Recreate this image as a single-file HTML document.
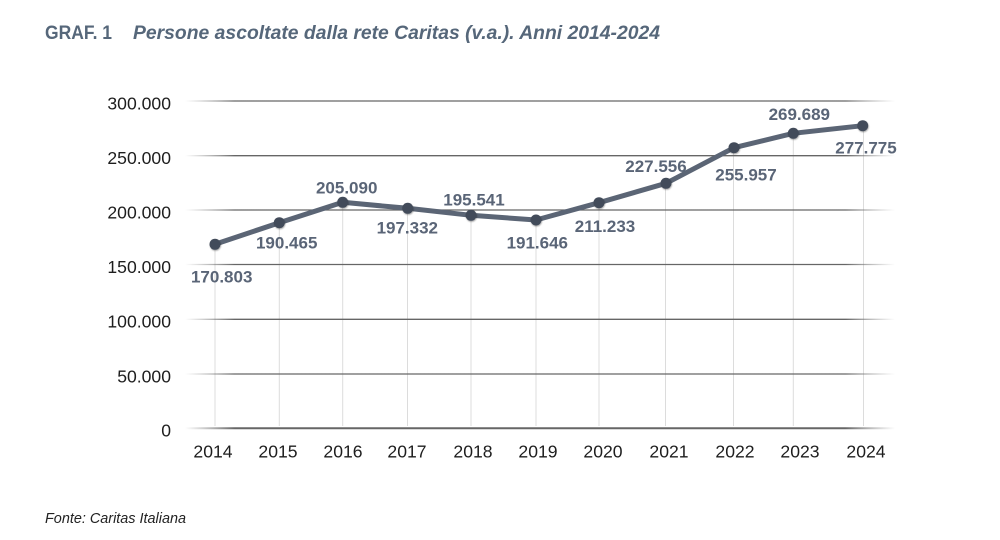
<!DOCTYPE html>
<html>
<head>
<meta charset="utf-8">
<style>
  html,body{margin:0;padding:0;background:#fff;}
  body{width:1000px;height:540px;overflow:hidden;}
  svg{display:block;font-family:"Liberation Sans",sans-serif;}
</style>
</head>
<body>
<svg width="1000" height="540" viewBox="0 0 1000 540" xmlns="http://www.w3.org/2000/svg">
  <defs>
    <linearGradient id="hg" gradientUnits="userSpaceOnUse" x1="185" y1="0" x2="895" y2="0">
      <stop offset="0" stop-color="#888" stop-opacity="0"/>
      <stop offset="0.07" stop-color="#666" stop-opacity="1"/>
      <stop offset="0.93" stop-color="#666" stop-opacity="1"/>
      <stop offset="1" stop-color="#888" stop-opacity="0"/>
    </linearGradient>
    <filter id="sh" x="-50%" y="-50%" width="200%" height="200%">
      <feDropShadow dx="0.5" dy="1" stdDeviation="0.8" flood-color="#000" flood-opacity="0.35"/>
    </filter>
  </defs>

  <!-- Title -->
  <text x="45" y="39" font-size="19.5" font-weight="bold" fill="#56677a" textLength="67" lengthAdjust="spacingAndGlyphs">GRAF. 1</text>
  <text x="133" y="39" font-size="19.5" font-weight="bold" font-style="italic" fill="#56677a" textLength="527" lengthAdjust="spacingAndGlyphs">Persone ascoltate dalla rete Caritas (v.a.). Anni 2014-2024</text>

  <!-- vertical grid lines -->
  <g stroke="#dcdcdc" stroke-width="1">
    <line x1="215" y1="244" x2="215" y2="426"/>
    <line x1="279.3" y1="223" x2="279.3" y2="426"/>
    <line x1="342.7" y1="202" x2="342.7" y2="426"/>
    <line x1="407.5" y1="208" x2="407.5" y2="426"/>
    <line x1="471" y1="215" x2="471" y2="426"/>
    <line x1="536" y1="220" x2="536" y2="426"/>
    <line x1="599" y1="203" x2="599" y2="426"/>
    <line x1="665.5" y1="183" x2="665.5" y2="426"/>
    <line x1="733.5" y1="148" x2="733.5" y2="426"/>
    <line x1="793.3" y1="133" x2="793.3" y2="426"/>
    <line x1="863.5" y1="126" x2="863.5" y2="426"/>
  </g>

  <!-- horizontal grid lines -->
  <g stroke="url(#hg)" stroke-width="1.3">
    <line x1="185" y1="101" x2="895" y2="101"/>
    <line x1="185" y1="155.7" x2="895" y2="155.7"/>
    <line x1="185" y1="210" x2="895" y2="210"/>
    <line x1="185" y1="264.5" x2="895" y2="264.5"/>
    <line x1="185" y1="319.3" x2="895" y2="319.3"/>
    <line x1="185" y1="374" x2="895" y2="374"/>
  </g>
  <line x1="185" y1="428.3" x2="895" y2="428.3" stroke="url(#hg)" stroke-width="2"/>

  <!-- y tick labels -->
  <g font-size="17.6" fill="#1e1e1e" text-anchor="end">
    <text x="171" y="109.3">300.000</text>
    <text x="171" y="164">250.000</text>
    <text x="171" y="218.3">200.000</text>
    <text x="171" y="272.8">150.000</text>
    <text x="171" y="327.6">100.000</text>
    <text x="171" y="382.3">50.000</text>
    <text x="171" y="436.7">0</text>
  </g>

  <!-- x tick labels -->
  <g font-size="17.6" fill="#1e1e1e" text-anchor="middle">
    <text x="213" y="457.3">2014</text>
    <text x="278" y="457.3">2015</text>
    <text x="343" y="457.3">2016</text>
    <text x="407" y="457.3">2017</text>
    <text x="473" y="457.3">2018</text>
    <text x="538" y="457.3">2019</text>
    <text x="603" y="457.3">2020</text>
    <text x="669" y="457.3">2021</text>
    <text x="735" y="457.3">2022</text>
    <text x="800" y="457.3">2023</text>
    <text x="866" y="457.3">2024</text>
  </g>

  <!-- series line -->
  <polyline fill="none" stroke="#5b6575" stroke-width="5" stroke-linejoin="round" stroke-linecap="round"
    points="215,244.3 279.3,222.7 342.7,202.3 407.7,208.3 471,215.3 536,220 599,202.7 666,183.3 734,147.7 793.3,133.3 862.7,125.7"/>

  <!-- markers -->
  <g fill="#434c5a" filter="url(#sh)">
    <circle cx="215" cy="244.3" r="5.5"/>
    <circle cx="279.3" cy="222.7" r="5.5"/>
    <circle cx="342.7" cy="202.3" r="5.5"/>
    <circle cx="407.7" cy="208.3" r="5.5"/>
    <circle cx="471" cy="215.3" r="5.5"/>
    <circle cx="536" cy="220" r="5.5"/>
    <circle cx="599" cy="202.7" r="5.5"/>
    <circle cx="666" cy="183.3" r="5.5"/>
    <circle cx="734" cy="147.7" r="5.5"/>
    <circle cx="793.3" cy="133.3" r="5.5"/>
    <circle cx="862.7" cy="125.7" r="5.5"/>
  </g>

  <!-- data labels -->
  <g font-size="17" font-weight="bold" fill="#5a6577" text-anchor="middle">
    <text x="221.7" y="282.7">170.803</text>
    <text x="286.7" y="248.7">190.465</text>
    <text x="346.7" y="193.3">205.090</text>
    <text x="407.3" y="233.3">197.332</text>
    <text x="474" y="205.3">195.541</text>
    <text x="537.3" y="248.3">191.646</text>
    <text x="605" y="232">211.233</text>
    <text x="656" y="172">227.556</text>
    <text x="746" y="180.3">255.957</text>
    <text x="799.3" y="120">269.689</text>
    <text x="866" y="153.7">277.775</text>
  </g>

  <!-- source -->
  <text x="45" y="523" font-size="14.5" font-style="italic" fill="#222" textLength="141" lengthAdjust="spacingAndGlyphs">Fonte: Caritas Italiana</text>
</svg>
</body>
</html>
